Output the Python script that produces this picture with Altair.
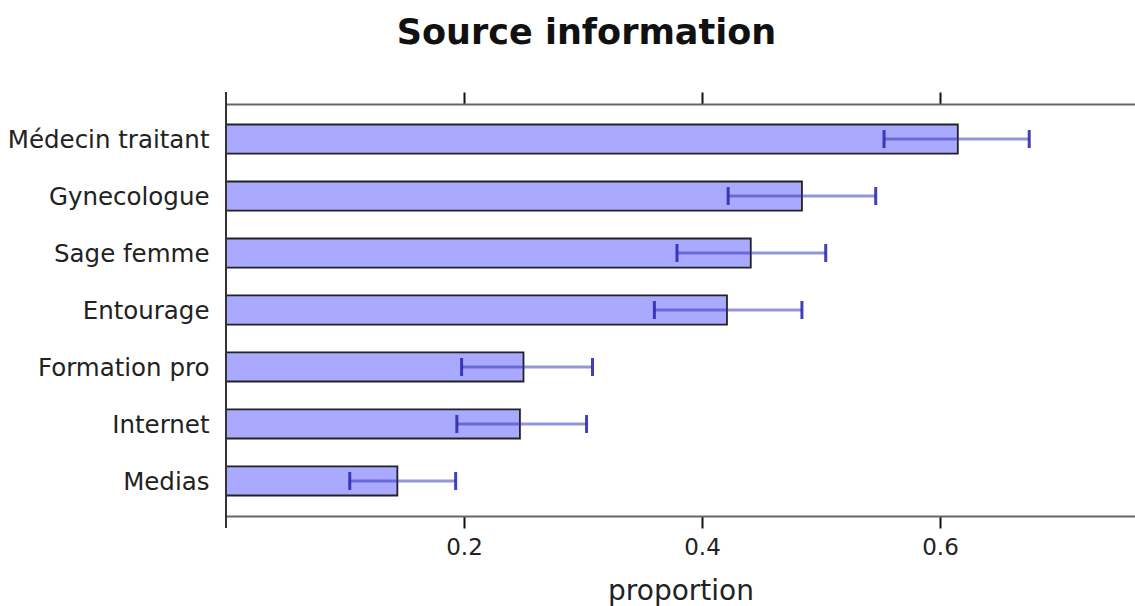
import altair as alt
import pandas as pd

# Share of respondents citing each source of information, with confidence limits
sources = ["Médecin traitant", "Gynecologue", "Sage femme", "Entourage",
           "Formation pro", "Internet", "Medias"]
proportion = [0.615, 0.484, 0.441, 0.421, 0.250, 0.247, 0.144]
ci_low = [0.553, 0.422, 0.379, 0.360, 0.198, 0.194, 0.104]
ci_high = [0.675, 0.546, 0.504, 0.484, 0.308, 0.303, 0.193]
x_ticks = [0.2, 0.4, 0.6]

df = pd.DataFrame({"source": sources, "proportion": proportion,
                   "low": ci_low, "high": ci_high})

FONT = "DejaVu Sans"
BLUE = "#2b2bb0"

x_scale = alt.Scale(domain=[0, 0.7639], nice=False, zero=False)
y_scale = alt.Scale(paddingInner=0.49, paddingOuter=0.36)

# same y definition in every layer so the shared axis keeps its labels
y_enc = alt.Y("source:N", sort=sources, scale=y_scale,
              axis=alt.Axis(title=None, domain=False, ticks=False,
                            labelFont=FONT, labelFontSize=24.5,
                            labelColor="#222", labelPadding=17,
                            labelLimit=400, labelOffset=2))

bars = alt.Chart(df).mark_bar(
    fill="#a9a9ff", stroke="#222", strokeWidth=1.8
).encode(
    x=alt.X("proportion:Q", scale=x_scale,
            axis=alt.Axis(orient="bottom", values=x_ticks, format=".1f",
                          grid=False, title="proportion",
                          titleFont=FONT, titleFontSize=28,
                          titleFontWeight="normal", titleColor="#222",
                          titlePadding=18,
                          labelFont=FONT, labelFontSize=23, labelColor="#222",
                          labelPadding=8,
                          domainColor="#666", domainWidth=2.2,
                          tickColor="#111", tickWidth=2, tickSize=12)),
    y=y_enc,
)

whiskers = alt.Chart(df).mark_rule(
    color=BLUE, strokeWidth=3, opacity=0.5
).encode(
    x=alt.X("low:Q", scale=x_scale,
            axis=alt.Axis(orient="top", values=x_ticks, labels=False,
                          title=None, grid=False,
                          domainColor="#666", domainWidth=2.2,
                          tickColor="#111", tickWidth=2, tickSize=12)),
    x2="high:Q",
    y=y_enc,
)

caps_low = alt.Chart(df).mark_tick(
    color=BLUE, size=18, thickness=3, opacity=0.9
).encode(
    x=alt.X("low:Q", scale=x_scale, axis=None),
    y=y_enc,
)

caps_high = alt.Chart(df).mark_tick(
    color=BLUE, size=18, thickness=3, opacity=0.9
).encode(
    x=alt.X("high:Q", scale=x_scale, axis=None),
    y=y_enc,
)

# vertical frame line on the left, reaching past both horizontal axes
left_line = alt.Chart(df).mark_rule(color="#333", strokeWidth=2).encode(
    x=alt.value(0), y=alt.value(-12), y2=alt.value(424)
)

chart = alt.layer(bars, whiskers, caps_low, caps_high, left_line).resolve_axis(
    x="independent"
).properties(
    width=909,
    height=412,
    title=alt.TitleParams("Source information", font=FONT, fontSize=35,
                          fontWeight="bold", color="#111", anchor="middle",
                          frame="group", dx=-94, offset=40),
    autosize=alt.AutoSizeParams(type="none"),
    padding={"left": 226, "top": 104, "right": 0, "bottom": 90},
).configure_view(stroke=None).configure(background="white")

chart.save("out.html", embed_options={"renderer": "svg", "actions": False})
